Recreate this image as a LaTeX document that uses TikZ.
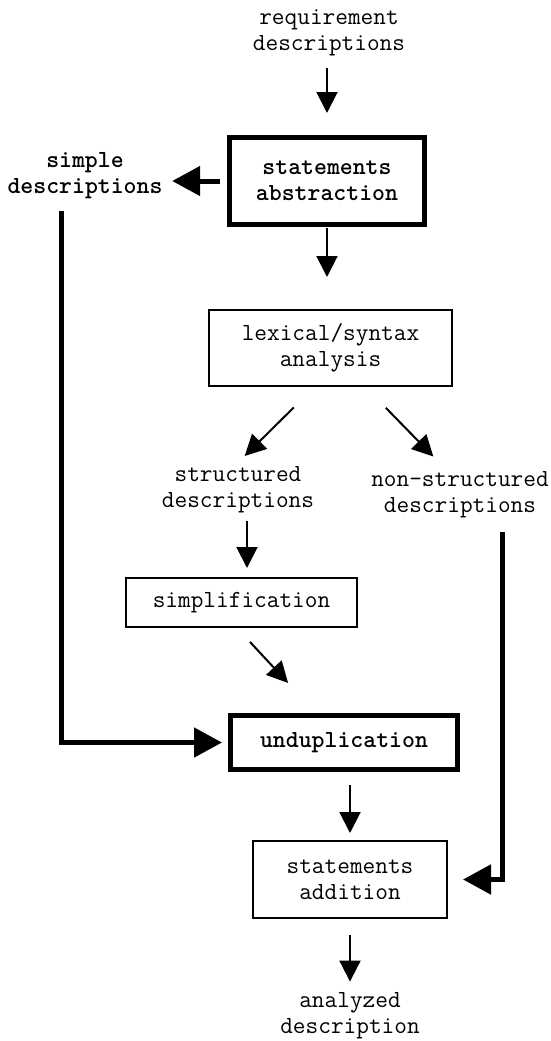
\documentclass[tikz,border=0pt]{standalone}
\usepackage{fontspec}
\usetikzlibrary{arrows.meta}
\begin{document}
\begin{tikzpicture}[x=1pt,y=-1pt,
  txt/.style={inner sep=0pt, align=center, font=\ttfamily\fontsize{24.6}{26}\selectfont},
  btxt/.style={txt, font=\ttfamily\bfseries\fontsize{24.6}{26}\selectfont},
  thinbox/.style={draw, line width=2pt, inner sep=0pt, align=center, font=\ttfamily\fontsize{24.6}{26}\selectfont},
  thickbox/.style={draw, line width=5pt, inner sep=0pt, align=center, font=\ttfamily\bfseries\fontsize{24.6}{26}\selectfont},
  arr/.style={line width=2pt, -{Triangle[length=21pt,width=21pt]}},
  tarr/.style={line width=5pt, line join=miter, -{Triangle[length=28pt,width=29pt]}}
]
\useasboundingbox (0,0) rectangle (550,1041);

\node[txt] (req) at (329,33) {requirement\\descriptions};
\node[thickbox, minimum width=195pt, minimum height=87pt] (sa) at (327,181) {statements\\abstraction};
\node[btxt] (simple) at (85,176) {simple\\descriptions};
\node[thinbox, minimum width=243pt, minimum height=76pt] (lex) at (330.5,348) {lexical/syntax\\analysis};
\node[txt] (struct) at (238,490) {structured\\descriptions};
\node[txt] (nonstruct) at (460,495) {non-structured\\descriptions};
\node[thinbox, minimum width=231pt, minimum height=49pt] (simp) at (241.5,602.5) {simplification};
\node[thickbox, minimum width=227pt, minimum height=54pt] (undup) at (344,742.5) {unduplication};
\node[thinbox, minimum width=194pt, minimum height=77pt] (add) at (350,879.5) {statements\\addition};
\node[txt] (anal) at (350,1016) {analyzed\\description};

% thin arrows
\draw[arr, shorten <=12pt, shorten >=22pt] (req.south -| sa.north) -- (sa.north);
\draw[arr, shorten <=1pt, shorten >=32pt] (sa.south) -- (sa.south |- lex.north);
\draw[arr, shorten <=29pt, shorten >=15pt] ([xshift=-16pt]lex.south) -- ([xshift=-4pt]struct.north);
\draw[arr, shorten <=29pt, shorten >=21pt] ([xshift=35pt]lex.south) -- ([xshift=-12pt]nonstruct.north);
\draw[arr, shorten <=8pt, shorten >=9pt] ([xshift=9pt]struct.south) -- ([xshift=5.5pt]simp.north);
\draw[arr, shorten <=19pt, shorten >=41pt] ([xshift=-4.5pt]simp.south) -- ([xshift=-28pt]undup.north);
\draw[arr, shorten <=13pt, shorten >=7pt] (undup.south -| add.north) -- (add.north);
\draw[arr, shorten <=16pt, shorten >=11pt] (add.south) -- (add.south |- anal.north);

% thick arrows
\draw[tarr, shorten <=7pt, shorten >=9.5pt] (sa.west) -- (sa.west -| simple.east);
\draw[tarr, shorten <=12pt, shorten >=6pt] ([xshift=-24pt]simple.south) |- (undup.west);
\draw[tarr, shorten <=14pt, shorten >=15pt] ([xshift=42pt]nonstruct.south) |- (add.east);
\end{tikzpicture}
\end{document}
